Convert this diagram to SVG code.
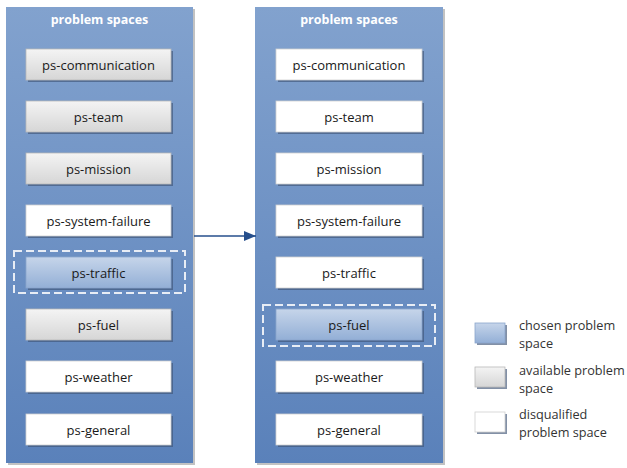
<svg xmlns="http://www.w3.org/2000/svg" width="627" height="468" viewBox="0 0 627 468">
  <defs>
    <linearGradient id="panelFill" x1="0" y1="0" x2="0" y2="1">
      <stop offset="0" stop-color="#82a2ce"/>
      <stop offset="1" stop-color="#5a81ba"/>
    </linearGradient>
    <linearGradient id="greyFill" x1="0" y1="0" x2="0" y2="1">
      <stop offset="0" stop-color="#f4f4f4"/>
      <stop offset="1" stop-color="#d6d6d6"/>
    </linearGradient>
    <linearGradient id="blueFill" x1="0" y1="0" x2="0" y2="1">
      <stop offset="0" stop-color="#c6d5ea"/>
      <stop offset="1" stop-color="#93afd6"/>
    </linearGradient>
    <marker id="arrowHead" viewBox="0 0 12 10" refX="12" refY="5" markerWidth="12" markerHeight="10" markerUnits="userSpaceOnUse" orient="auto">
      <path d="M0,0 L12,5 L0,10 z" fill="#264f8c"/>
    </marker>
  </defs>
  <style>
    .panel { fill: url(#panelFill); }
    .panelShadow { fill: #9a9a9a; opacity: 0.6; }
    .boxShadow { fill: #3f5577; opacity: 0.65; }
    .grey { fill: url(#greyFill); stroke: #b8b8b8; stroke-width: 0.8; }
    .blue { fill: url(#blueFill); stroke: #8aa5cc; stroke-width: 0.8; }
    .white { fill: #ffffff; stroke: #d0d0d0; stroke-width: 0.8; }
    .title { font-family: "Open Sans", "Liberation Sans", sans-serif; font-weight: bold; font-size: 12.5px; fill: #ffffff; text-anchor: middle; }
    .label { font-family: "Open Sans", "Liberation Sans", sans-serif; font-size: 13px; fill: #1a1a1a; text-anchor: middle; }
    .legendText { font-family: "Open Sans", "Liberation Sans", sans-serif; font-size: 12.7px; fill: #333333; }
    .select { fill: none; stroke: #e8edf5; stroke-width: 2; stroke-dasharray: 8 4; }
    .connector { stroke: #264f8c; stroke-width: 1.6; fill: none; }
  </style>

  <!-- left column: problem spaces before selection -->
  <g id="panel-left">
    <rect class="panelShadow" x="8" y="9" width="187" height="456"/>
    <rect class="panel" x="6" y="7" width="187" height="456"/>
    <text class="title" x="99.5" y="24">problem spaces</text>
  </g>
  <g id="l-communication">
    <rect class="boxShadow" x="28" y="51" width="145" height="31"/>
    <rect class="grey" x="26" y="49" width="145" height="31"/>
    <text class="label" x="98.5" y="69.5">ps-communication</text>
  </g>
  <g id="l-team">
    <rect class="boxShadow" x="28" y="103" width="145" height="31"/>
    <rect class="grey" x="26" y="101" width="145" height="31"/>
    <text class="label" x="98.5" y="121.5">ps-team</text>
  </g>
  <g id="l-mission">
    <rect class="boxShadow" x="28" y="155" width="145" height="31"/>
    <rect class="grey" x="26" y="153" width="145" height="31"/>
    <text class="label" x="98.5" y="173.5">ps-mission</text>
  </g>
  <g id="l-system-failure">
    <rect class="boxShadow" x="28" y="207" width="145" height="31"/>
    <rect class="white" x="26" y="205" width="145" height="31"/>
    <text class="label" x="98.5" y="225.5">ps-system-failure</text>
  </g>
  <g id="l-traffic">
    <rect class="select" x="14" y="251" width="171" height="42"/>
    <rect class="boxShadow" x="28" y="259" width="145" height="31"/>
    <rect class="blue" x="26" y="257" width="145" height="31"/>
    <text class="label" x="98.5" y="277.5">ps-traffic</text>
  </g>
  <g id="l-fuel">
    <rect class="boxShadow" x="28" y="311" width="145" height="31"/>
    <rect class="grey" x="26" y="309" width="145" height="31"/>
    <text class="label" x="98.5" y="329.5">ps-fuel</text>
  </g>
  <g id="l-weather">
    <rect class="boxShadow" x="28" y="363" width="145" height="31"/>
    <rect class="white" x="26" y="361" width="145" height="31"/>
    <text class="label" x="98.5" y="381.5">ps-weather</text>
  </g>
  <g id="l-general">
    <rect class="boxShadow" x="28" y="416" width="145" height="31"/>
    <rect class="white" x="26" y="414" width="145" height="31"/>
    <text class="label" x="98.5" y="434.5">ps-general</text>
  </g>

  <!-- right column: problem spaces after selection -->
  <g id="panel-right">
    <rect class="panelShadow" x="257" y="9" width="188" height="456"/>
    <rect class="panel" x="255" y="7" width="188" height="456"/>
    <text class="title" x="349" y="24">problem spaces</text>
  </g>
  <g id="r-communication">
    <rect class="boxShadow" x="278" y="51" width="146" height="31"/>
    <rect class="white" x="276" y="49" width="146" height="31"/>
    <text class="label" x="349" y="69.5">ps-communication</text>
  </g>
  <g id="r-team">
    <rect class="boxShadow" x="278" y="103" width="146" height="31"/>
    <rect class="white" x="276" y="101" width="146" height="31"/>
    <text class="label" x="349" y="121.5">ps-team</text>
  </g>
  <g id="r-mission">
    <rect class="boxShadow" x="278" y="155" width="146" height="31"/>
    <rect class="white" x="276" y="153" width="146" height="31"/>
    <text class="label" x="349" y="173.5">ps-mission</text>
  </g>
  <g id="r-system-failure">
    <rect class="boxShadow" x="278" y="207" width="146" height="31"/>
    <rect class="white" x="276" y="205" width="146" height="31"/>
    <text class="label" x="349" y="225.5">ps-system-failure</text>
  </g>
  <g id="r-traffic">
    <rect class="boxShadow" x="278" y="259" width="146" height="31"/>
    <rect class="white" x="276" y="257" width="146" height="31"/>
    <text class="label" x="349" y="277.5">ps-traffic</text>
  </g>
  <g id="r-fuel">
    <rect class="select" x="263" y="305" width="172" height="41"/>
    <rect class="boxShadow" x="278" y="311" width="146" height="31"/>
    <rect class="blue" x="276" y="309" width="146" height="31"/>
    <text class="label" x="349" y="329.5">ps-fuel</text>
  </g>
  <g id="r-weather">
    <rect class="boxShadow" x="278" y="363" width="146" height="31"/>
    <rect class="white" x="276" y="361" width="146" height="31"/>
    <text class="label" x="349" y="381.5">ps-weather</text>
  </g>
  <g id="r-general">
    <rect class="boxShadow" x="278" y="416" width="146" height="31"/>
    <rect class="white" x="276" y="414" width="146" height="31"/>
    <text class="label" x="349" y="434.5">ps-general</text>
  </g>

  <!-- connectors -->
  <g id="connectors">
    <line class="connector" x1="194" y1="236" x2="256" y2="236" marker-end="url(#arrowHead)"/>
  </g>

  <!-- legend -->
  <g id="legend-chosen">
    <rect class="boxShadow" x="477" y="325" width="30" height="20"/>
    <rect class="blue" x="475" y="323" width="30" height="20"/>
    <text class="legendText" x="519" y="330">chosen problem</text>
    <text class="legendText" x="519" y="348">space</text>
  </g>
  <g id="legend-available">
    <rect class="boxShadow" x="477" y="369" width="30" height="20"/>
    <rect class="grey" x="475" y="367" width="30" height="20"/>
    <text class="legendText" x="519" y="375">available problem</text>
    <text class="legendText" x="519" y="393">space</text>
  </g>
  <g id="legend-disqualified">
    <rect class="boxShadow" x="477" y="414" width="30" height="20"/>
    <rect class="white" x="475" y="412" width="30" height="20"/>
    <text class="legendText" x="519" y="419">disqualified</text>
    <text class="legendText" x="519" y="437">problem space</text>
  </g>
</svg>
